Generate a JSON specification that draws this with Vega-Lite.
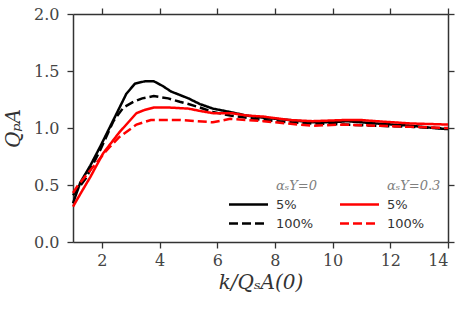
{
  "$schema": "https://vega.github.io/schema/vega-lite/v6.json",
  "width": 375,
  "height": 228,
  "autosize": {"type": "none"},
  "padding": {"left": 73, "top": 14, "right": 15, "bottom": 67},
  "background": "white",
  "config": {
    "view": {"stroke": null},
    "axis": {
      "grid": false,
      "domainColor": "#333333",
      "domainWidth": 1.5,
      "tickColor": "#333333",
      "tickWidth": 1.3,
      "tickSize": 6,
      "labelFont": "DejaVu Serif",
      "labelFontSize": 16,
      "labelColor": "#444444",
      "titleFont": "DejaVu Serif",
      "titleFontStyle": "italic",
      "titleFontWeight": "normal",
      "titleFontSize": 20,
      "titleColor": "#333333"
    }
  },
  "data": {
    "values": [
      {"s": "k5", "k": 1.0, "q": 0.34}, {"s": "k5", "k": 1.25, "q": 0.52}, {"s": "k5", "k": 1.6, "q": 0.67},
      {"s": "k5", "k": 1.95, "q": 0.84}, {"s": "k5", "k": 2.4, "q": 1.07}, {"s": "k5", "k": 2.85, "q": 1.30},
      {"s": "k5", "k": 3.15, "q": 1.39}, {"s": "k5", "k": 3.5, "q": 1.41}, {"s": "k5", "k": 3.8, "q": 1.41},
      {"s": "k5", "k": 4.1, "q": 1.37}, {"s": "k5", "k": 4.4, "q": 1.32}, {"s": "k5", "k": 4.7, "q": 1.29},
      {"s": "k5", "k": 5.0, "q": 1.26}, {"s": "k5", "k": 5.4, "q": 1.21}, {"s": "k5", "k": 5.85, "q": 1.17},
      {"s": "k5", "k": 6.45, "q": 1.14}, {"s": "k5", "k": 7.0, "q": 1.11}, {"s": "k5", "k": 7.6, "q": 1.09},
      {"s": "k5", "k": 8.5, "q": 1.07}, {"s": "k5", "k": 9.3, "q": 1.05}, {"s": "k5", "k": 10.0, "q": 1.05},
      {"s": "k5", "k": 10.5, "q": 1.06}, {"s": "k5", "k": 11.0, "q": 1.05}, {"s": "k5", "k": 11.5, "q": 1.04},
      {"s": "k5", "k": 12.7, "q": 1.02}, {"s": "k5", "k": 13.5, "q": 1.0}, {"s": "k5", "k": 14.0, "q": 0.99},

      {"s": "k100", "k": 1.0, "q": 0.41}, {"s": "k100", "k": 1.45, "q": 0.56}, {"s": "k100", "k": 1.95, "q": 0.81},
      {"s": "k100", "k": 2.4, "q": 1.06}, {"s": "k100", "k": 2.75, "q": 1.18}, {"s": "k100", "k": 3.1, "q": 1.23},
      {"s": "k100", "k": 3.4, "q": 1.26}, {"s": "k100", "k": 3.8, "q": 1.28}, {"s": "k100", "k": 4.3, "q": 1.26},
      {"s": "k100", "k": 4.7, "q": 1.23}, {"s": "k100", "k": 5.0, "q": 1.21}, {"s": "k100", "k": 5.4, "q": 1.18},
      {"s": "k100", "k": 5.85, "q": 1.14}, {"s": "k100", "k": 6.45, "q": 1.11}, {"s": "k100", "k": 7.6, "q": 1.07},
      {"s": "k100", "k": 8.5, "q": 1.05}, {"s": "k100", "k": 9.3, "q": 1.04}, {"s": "k100", "k": 10.4, "q": 1.03},
      {"s": "k100", "k": 11.5, "q": 1.02}, {"s": "k100", "k": 12.7, "q": 1.01}, {"s": "k100", "k": 14.0, "q": 0.995},

      {"s": "r5", "k": 1.0, "q": 0.31}, {"s": "r5", "k": 1.25, "q": 0.42}, {"s": "r5", "k": 1.6, "q": 0.57},
      {"s": "r5", "k": 2.05, "q": 0.78}, {"s": "r5", "k": 2.6, "q": 0.96}, {"s": "r5", "k": 3.2, "q": 1.13},
      {"s": "r5", "k": 3.5, "q": 1.16}, {"s": "r5", "k": 3.8, "q": 1.18}, {"s": "r5", "k": 4.3, "q": 1.18},
      {"s": "r5", "k": 5.0, "q": 1.17}, {"s": "r5", "k": 5.4, "q": 1.15}, {"s": "r5", "k": 5.85, "q": 1.13},
      {"s": "r5", "k": 6.5, "q": 1.13}, {"s": "r5", "k": 7.0, "q": 1.11}, {"s": "r5", "k": 7.6, "q": 1.10},
      {"s": "r5", "k": 8.5, "q": 1.07}, {"s": "r5", "k": 9.3, "q": 1.06}, {"s": "r5", "k": 10.4, "q": 1.07},
      {"s": "r5", "k": 11.0, "q": 1.07}, {"s": "r5", "k": 11.5, "q": 1.06}, {"s": "r5", "k": 12.7, "q": 1.04},
      {"s": "r5", "k": 14.0, "q": 1.03},

      {"s": "r100", "k": 1.0, "q": 0.43}, {"s": "r100", "k": 1.15, "q": 0.49}, {"s": "r100", "k": 1.7, "q": 0.66},
      {"s": "r100", "k": 2.15, "q": 0.80}, {"s": "r100", "k": 2.6, "q": 0.92}, {"s": "r100", "k": 3.2, "q": 1.03},
      {"s": "r100", "k": 3.7, "q": 1.07}, {"s": "r100", "k": 4.2, "q": 1.07}, {"s": "r100", "k": 4.7, "q": 1.07},
      {"s": "r100", "k": 5.3, "q": 1.06}, {"s": "r100", "k": 5.85, "q": 1.05}, {"s": "r100", "k": 6.45, "q": 1.08},
      {"s": "r100", "k": 7.0, "q": 1.07}, {"s": "r100", "k": 7.6, "q": 1.06}, {"s": "r100", "k": 8.8, "q": 1.03},
      {"s": "r100", "k": 9.3, "q": 1.02}, {"s": "r100", "k": 10.4, "q": 1.03}, {"s": "r100", "k": 11.5, "q": 1.02},
      {"s": "r100", "k": 12.7, "q": 1.01}, {"s": "r100", "k": 14.0, "q": 1.0}
    ]
  },
  "layer": [
    {
      "mark": {"type": "line", "strokeWidth": 2.5},
      "encoding": {
        "x": {
          "field": "k", "type": "quantitative",
          "scale": {"domain": [1, 14], "nice": false, "zero": false},
          "axis": {"orient": "bottom", "values": [2, 4, 6, 8, 10, 12, 14], "format": "d", "labelPadding": 4, "title": "k/QₛA(0)", "titlePadding": 4}
        },
        "y": {
          "field": "q", "type": "quantitative",
          "scale": {"domain": [0, 2], "nice": false},
          "axis": {"orient": "left", "values": [0, 0.5, 1, 1.5, 2], "format": ".1f", "labelPadding": 8, "title": "QₚA", "titlePadding": 10}
        },
        "color": {
          "field": "s", "type": "nominal",
          "scale": {"domain": ["hk", "k5", "k100", "hr", "r5", "r100"], "range": ["#000000", "#000000", "#000000", "#ff0000", "#ff0000", "#ff0000"]},
          "legend": {
            "orient": "none", "legendX": 156, "legendY": 165, "columns": 2, "columnPadding": 18, "rowPadding": 5,
            "padding": 0, "title": null, "symbolType": "M-1.3,0H6.5", "symbolSize": 100, "symbolStrokeWidth": 2.5,
            "labelOffset": 34, "labelFontSize": 13, "labelFont": "DejaVu Sans", "labelColor": "#333333", "labelLimit": 120,
            "labelExpr": "datum.value == 'hk' ? 'αₛY=0' : datum.value == 'hr' ? 'αₛY=0.3' : (indexof(datum.value, '100') >= 0 ? '100%' : '5%')",
            "encode": {
              "symbols": {"update": {"opacity": {"signal": "datum.value[0] == 'h' ? 0 : 1"}}},
              "labels": {"update": {
                "fill": {"signal": "datum.value[0] == 'h' ? '#808080' : '#333333'"},
                "fontStyle": {"signal": "datum.value[0] == 'h' ? 'italic' : 'normal'"},
                "font": {"signal": "datum.value[0] == 'h' ? 'DejaVu Serif' : 'DejaVu Sans'"}
              }}
            }
          }
        },
        "strokeDash": {
          "field": "s", "type": "nominal",
          "scale": {"domain": ["hk", "k5", "k100", "hr", "r5", "r100"], "range": [[1, 0], [1, 0], [9, 4], [1, 0], [1, 0], [9, 4]]},
          "legend": {
            "orient": "none", "legendX": 156, "legendY": 165, "columns": 2, "columnPadding": 18, "rowPadding": 5,
            "padding": 0, "title": null, "symbolType": "M-1.3,0H6.5", "symbolSize": 100, "symbolStrokeWidth": 2.5,
            "labelOffset": 34, "labelFontSize": 13, "labelFont": "DejaVu Sans", "labelColor": "#333333", "labelLimit": 120,
            "labelExpr": "datum.value == 'hk' ? 'αₛY=0' : datum.value == 'hr' ? 'αₛY=0.3' : (indexof(datum.value, '100') >= 0 ? '100%' : '5%')",
            "encode": {
              "symbols": {"update": {"opacity": {"signal": "datum.value[0] == 'h' ? 0 : 1"}}},
              "labels": {"update": {
                "fill": {"signal": "datum.value[0] == 'h' ? '#808080' : '#333333'"},
                "fontStyle": {"signal": "datum.value[0] == 'h' ? 'italic' : 'normal'"},
                "font": {"signal": "datum.value[0] == 'h' ? 'DejaVu Serif' : 'DejaVu Sans'"}
              }}
            }
          }
        }
      }
    },
    {
      "mark": {"type": "line", "opacity": 0},
      "encoding": {
        "x": {"field": "k", "type": "quantitative", "axis": {"orient": "top", "values": [2, 4, 6, 8, 10, 12, 14], "labels": false, "title": null}},
        "y": {"field": "q", "type": "quantitative", "axis": {"orient": "right", "values": [0, 0.5, 1, 1.5, 2], "labels": false, "title": null}},
        "detail": {"field": "s", "type": "nominal"}
      }
    }
  ],
  "resolve": {"axis": {"x": "independent", "y": "independent"}}
}
